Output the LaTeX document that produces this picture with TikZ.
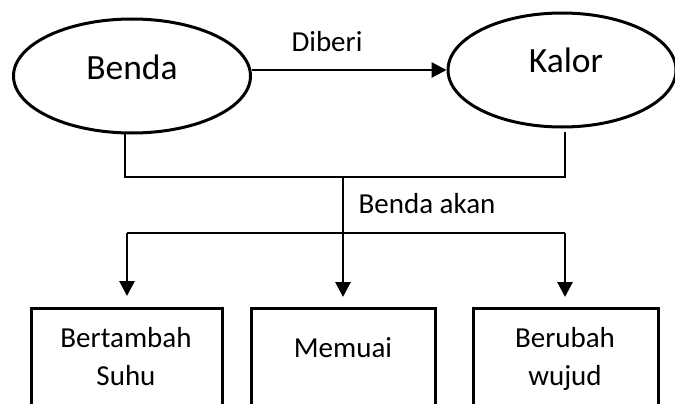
\documentclass[tikz,border=0pt]{standalone}
\usepackage{fontspec}
\setmainfont{Carlito}
\usetikzlibrary{shapes.geometric,arrows.meta}
\begin{document}
\begin{tikzpicture}[x=1pt,y=-1pt,
  oval/.style={ellipse,draw,line width=3pt,minimum width=#1,minimum height=114pt,inner sep=0pt},
  bigtxt/.style={font=\fontsize{35.5}{40}\selectfont,inner sep=0pt,anchor=base},
  smalltxt/.style={font=\fontsize{29}{34}\selectfont,inner sep=0pt,anchor=base},
  boxnode/.style={rectangle,draw,line width=3.2pt,minimum height=130pt,inner sep=0pt,anchor=north west},
  thinline/.style={line width=1.1pt},
  arr/.style={line width=2.8pt,-{Triangle[width=15pt,length=15pt]}}]
\useasboundingbox (0,0) rectangle (675,404);
\clip (0,0) rectangle (675,404);
% ellipses
\node[oval=237pt] (Benda) at (132,76) {};
\node[oval=228pt] (Kalor) at (562,70) {};
\node[bigtxt] (tBenda) at (132,80) {Benda};
\node[bigtxt] (tKalor) at (566,73) {Kalor};
% top arrow
\draw[arr] (Benda.east |- Kalor.west) -- (Kalor.west);
\node[smalltxt] (diberi) at (327,52) {Diberi};
% connecting lines
\coordinate (bl) at (125,133);
\coordinate (kb) at (565,132);
\coordinate (jl) at (125,177);
\coordinate (jm) at (343,177);
\coordinate (jr) at (565,177);
\draw[thinline] (bl) -- (jl) -- (jr) -- (kb);
\node[smalltxt] (akan) at (427,213) {Benda akan};
% boxes
\node[boxnode,minimum width=191pt] (b1) at (30,307) {};
\node[boxnode,minimum width=184pt] (b2) at (250,307) {};
\node[boxnode,minimum width=185pt] (b3) at (472,307) {};
% distribution lines
\coordinate (hl) at (127,233);
\coordinate (hr) at (565,233);
\coordinate (e1) at (127,296);
\coordinate (e2) at (343,297);
\coordinate (e3) at (565,297);
\draw[thinline] (hl) -- (hr);
\draw[arr] (hl) -- (e1);
\draw[arr] (jm) -- (e2);
\draw[arr] (hr) -- (e3);
% box texts
\node[smalltxt] (t1a) at (126,347) {Bertambah};
\node[smalltxt] (t1b) at (126,385) {Suhu};
\node[smalltxt] (t2) at (343,357) {Memuai};
\node[smalltxt] (t3a) at (565,347) {Berubah};
\node[smalltxt] (t3b) at (565,385) {wujud};
\end{tikzpicture}
\end{document}
